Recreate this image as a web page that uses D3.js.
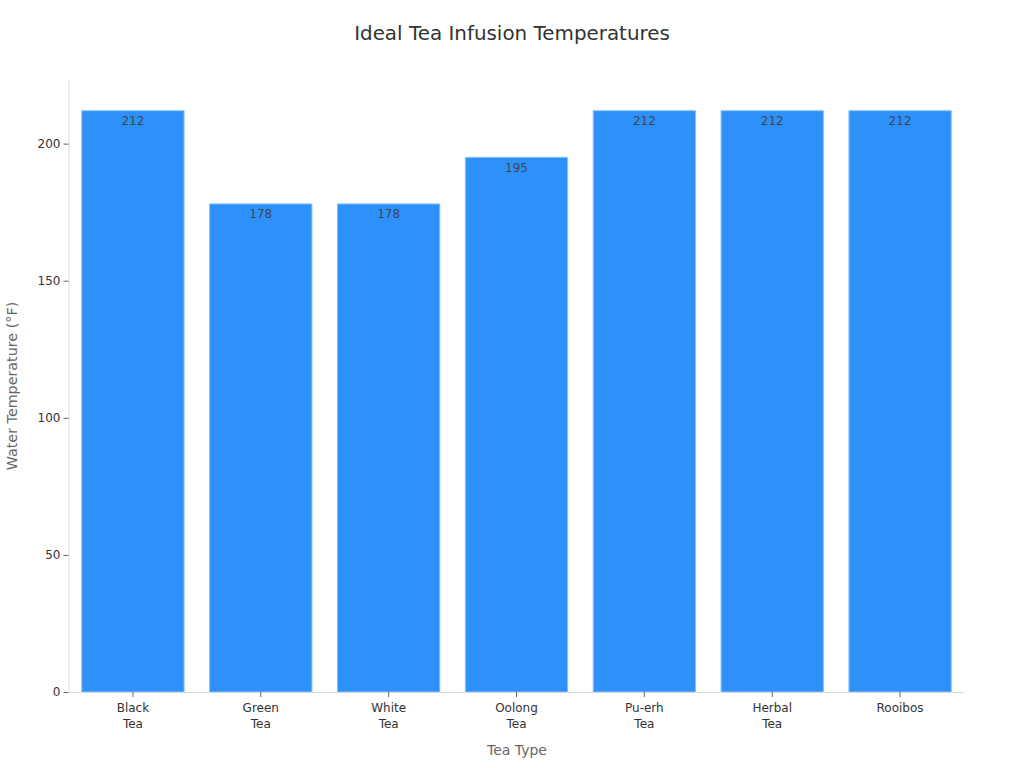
<!DOCTYPE html>
<html>
<head>
<meta charset="utf-8">
<script src="https://cdn.jsdelivr.net/npm/d3@7"></script>
<style>
  html, body { margin: 0; padding: 0; background: #fff; }
  text { font-family: "DejaVu Sans", sans-serif; }
</style>
</head>
<body>
<div id="chart"></div>
<script>
// chart data
var teaLines = [["Black", "Tea"], ["Green", "Tea"], ["White", "Tea"], ["Oolong", "Tea"], ["Pu-erh", "Tea"], ["Herbal", "Tea"], ["Rooibos"]];
var temperatures = [212, 178, 178, 195, 212, 212, 212];
var yTicks = [0, 50, 100, 150, 200];
var teaIndex = d3.range(teaLines.length);

var svgWidth = 1024, svgHeight = 768;
var margin = { top: 80, right: 60, bottom: 76, left: 68.5 };
var chartWidth = svgWidth - margin.left - margin.right;
var chartHeight = svgHeight - margin.top - margin.bottom;

var svg = d3.select("#chart").append("svg")
    .attr("width", svgWidth)
    .attr("height", svgHeight)
    .style("display", "block");

var chartGroup = svg.append("g")
    .attr("transform", `translate(${margin.left}, ${margin.top})`);

var x = d3.scaleBand().domain(teaIndex).range([0.5, chartWidth]).paddingInner(0.2).paddingOuter(0.1);
var y = d3.scaleLinear().domain([0, 223.2]).range([chartHeight, 0]);

// bars
chartGroup.selectAll(".bar")
    .data(temperatures)
    .enter()
    .append("rect")
    .attr("class", "bar")
    .attr("x", (d, i) => x(i))
    .attr("y", d => y(d))
    .attr("width", x.bandwidth())
    .attr("height", d => chartHeight - y(d))
    .attr("fill", "#2e91fa")
    .attr("stroke", "#85c1fc")
    .attr("stroke-width", 1);

// value labels
chartGroup.selectAll(".value")
    .data(temperatures)
    .enter()
    .append("text")
    .attr("class", "value")
    .attr("x", (d, i) => x(i) + x.bandwidth() / 2)
    .attr("y", d => y(d) + 14.5)
    .attr("text-anchor", "middle")
    .attr("font-size", "12px")
    .attr("fill", "#3b4654")
    .text(d => d);

// axes
var xAxis = chartGroup.append("g")
    .attr("transform", `translate(0, ${chartHeight})`)
    .call(d3.axisBottom(x).tickSizeInner(5).tickSizeOuter(0).tickFormat(""));
var yAxis = chartGroup.append("g")
    .call(d3.axisLeft(y).tickValues(yTicks).tickSizeInner(5).tickSizeOuter(0).tickPadding(3));

[xAxis, yAxis].forEach(function(axis) {
    axis.select(".domain").attr("stroke", "#d9d9d9");
    axis.selectAll(".tick line").attr("stroke", "#666");
});
yAxis.selectAll(".tick text")
    .attr("font-size", "12px")
    .attr("font-family", '"DejaVu Sans", sans-serif')
    .attr("fill", "#333333");

// multi line category labels
xAxis.selectAll(".tick text").remove();
xAxis.selectAll(".tick").append("text")
    .attr("fill", "#333333")
    .attr("font-size", "12px")
    .attr("font-family", '"DejaVu Sans", sans-serif')
    .attr("text-anchor", "middle")
    .each(function(d) {
        d3.select(this).selectAll("tspan")
            .data(teaLines[d])
            .enter()
            .append("tspan")
            .attr("x", 0)
            .attr("y", (t, i) => 20 + i * 16)
            .text(t => t);
    });

// title and axis labels
svg.append("text")
    .attr("x", 512)
    .attr("y", 40)
    .attr("text-anchor", "middle")
    .attr("font-size", "19.9px")
    .attr("fill", "#333333")
    .text("Ideal Tea Infusion Temperatures");

svg.append("text")
    .attr("x", 517)
    .attr("y", 755)
    .attr("text-anchor", "middle")
    .attr("font-size", "14px")
    .attr("fill", "#666666")
    .text("Tea Type");

svg.append("text")
    .attr("transform", "translate(16.5, 386) rotate(-90)")
    .attr("text-anchor", "middle")
    .attr("font-size", "14.3px")
    .attr("fill", "#666666")
    .text("Water Temperature (°F)");
</script>
</body>
</html>
